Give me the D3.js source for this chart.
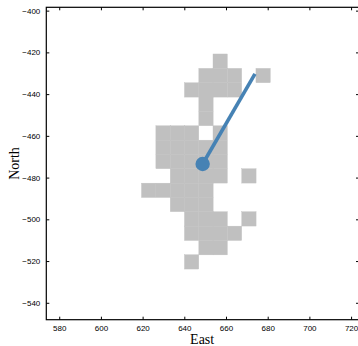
<!DOCTYPE html>
<html>
<head>
<meta charset="utf-8">
<script src="https://cdn.jsdelivr.net/npm/d3@7"></script>
<style>
  html, body { margin: 0; padding: 0; background: #fff; }
  svg { display: block; }
</style>
</head>
<body>
<svg id="chart" width="358" height="346"></svg>
<script>
// Occupied grid cells (cell centres, East / North)
const cellEast = [
  657.2,
  650.4, 657.2, 664.1, 677.8,
  643.5, 650.4, 657.2, 664.1,
  650.4,
  650.4,
  629.8, 636.7, 643.5, 657.2,
  629.8, 636.7, 643.5, 650.4, 657.2,
  629.8, 636.7, 643.5, 650.4, 657.2,
  636.7, 643.5, 650.4, 657.2, 671.0,
  622.9, 629.8, 636.7, 643.5, 650.4,
  636.7, 643.5, 650.4,
  643.5, 650.4, 657.2, 671.0,
  643.5, 650.4, 657.2, 664.1,
  650.4, 657.2,
  643.5
];
const cellNorth = [
  -424.2,
  -431.1, -431.1, -431.1, -431.1,
  -438.0, -438.0, -438.0, -438.0,
  -444.8,
  -451.7,
  -458.6, -458.6, -458.6, -458.6,
  -465.5, -465.5, -465.5, -465.5, -465.5,
  -472.3, -472.3, -472.3, -472.3, -472.3,
  -479.2, -479.2, -479.2, -479.2, -479.2,
  -486.1, -486.1, -486.1, -486.1, -486.1,
  -492.9, -492.9, -492.9,
  -499.8, -499.8, -499.8, -499.8,
  -506.7, -506.7, -506.7, -506.7,
  -513.6, -513.6,
  -520.4
];
const cellSize = 6.86;

// Heading segment: start position and end position
const trackEast = [648.8, 673.9];
const trackNorth = [-473.5, -430.3];

// Axis ticks
const xTicks = [580, 600, 620, 640, 660, 680, 700, 720];
const yTicks = [-400, -420, -440, -460, -480, -500, -520, -540];

const svg = d3.select("#chart");
const plotL = 46.3, plotR = 359, plotT = 7.3, plotB = 319.7;

const x = d3.scaleLinear().domain([573.8, 723.8]).range([plotL, plotR]);
const y = d3.scaleLinear().domain([-548.1, -398.4]).range([plotB, plotT]);

const fmt = d => (d < 0 ? "\u2212" + Math.abs(d) : String(d));

// Grid cells
const cells = cellEast.map((e, i) => ({ e, n: cellNorth[i] }));
svg.append("g")
  .selectAll("rect")
  .data(cells)
  .join("rect")
  .attr("x", d => x(d.e - cellSize / 2))
  .attr("y", d => y(d.n + cellSize / 2))
  .attr("width", d => x(d.e + cellSize / 2) - x(d.e - cellSize / 2))
  .attr("height", d => y(d.n - cellSize / 2) - y(d.n + cellSize / 2))
  .attr("fill", "#c0c0c0")
  .attr("stroke", "#c0c0c0")
  .attr("stroke-width", 0.4);

// Heading line and position marker
svg.append("line")
  .attr("x1", x(trackEast[0])).attr("y1", y(trackNorth[0]))
  .attr("x2", x(trackEast[1])).attr("y2", y(trackNorth[1]))
  .attr("stroke", "#4682b4")
  .attr("stroke-width", 3.6);
svg.append("circle")
  .attr("cx", x(trackEast[0])).attr("cy", y(trackNorth[0]))
  .attr("r", 7.2)
  .attr("fill", "#4682b4");

// Axes with inward ticks on all four sides
const tickStyle = g => {
  g.select(".domain").remove();
  g.selectAll(".tick line").attr("stroke", "#000").attr("stroke-width", 1);
  g.selectAll(".tick text")
    .attr("font-family", "'Liberation Sans', Arial, sans-serif")
    .attr("font-size", "8px")
    .attr("fill", "#000");
};

svg.append("g")
  .attr("transform", `translate(0,${plotB})`)
  .call(d3.axisBottom(x).tickValues(xTicks).tickFormat(fmt).tickSizeInner(-3).tickPadding(6))
  .call(tickStyle);
svg.append("g")
  .attr("transform", `translate(0,${plotT})`)
  .call(d3.axisTop(x).tickValues(xTicks).tickFormat("").tickSizeInner(-3))
  .call(tickStyle);
svg.append("g")
  .attr("transform", `translate(${plotL},0)`)
  .call(d3.axisLeft(y).tickValues(yTicks).tickFormat(fmt).tickSizeInner(-3).tickPadding(6))
  .call(tickStyle);
svg.append("g")
  .attr("transform", `translate(${plotR},0)`)
  .call(d3.axisRight(y).tickValues(yTicks).tickFormat("").tickSizeInner(-3))
  .call(tickStyle);

// Frame
svg.append("rect")
  .attr("x", plotL).attr("y", plotT)
  .attr("width", plotR - plotL).attr("height", plotB - plotT)
  .attr("fill", "none")
  .attr("stroke", "#000")
  .attr("stroke-width", 1.2);

// Axis titles
svg.append("text")
  .attr("x", (plotL + 358) / 2).attr("y", 344)
  .attr("text-anchor", "middle")
  .attr("font-family", "'Liberation Serif', 'Times New Roman', serif")
  .attr("font-size", "14px")
  .text("East");
svg.append("text")
  .attr("transform", `translate(18.5,${(plotT + plotB) / 2}) rotate(-90)`)
  .attr("text-anchor", "middle")
  .attr("font-family", "'Liberation Serif', 'Times New Roman', serif")
  .attr("font-size", "14px")
  .text("North");
</script>
</body>
</html>
